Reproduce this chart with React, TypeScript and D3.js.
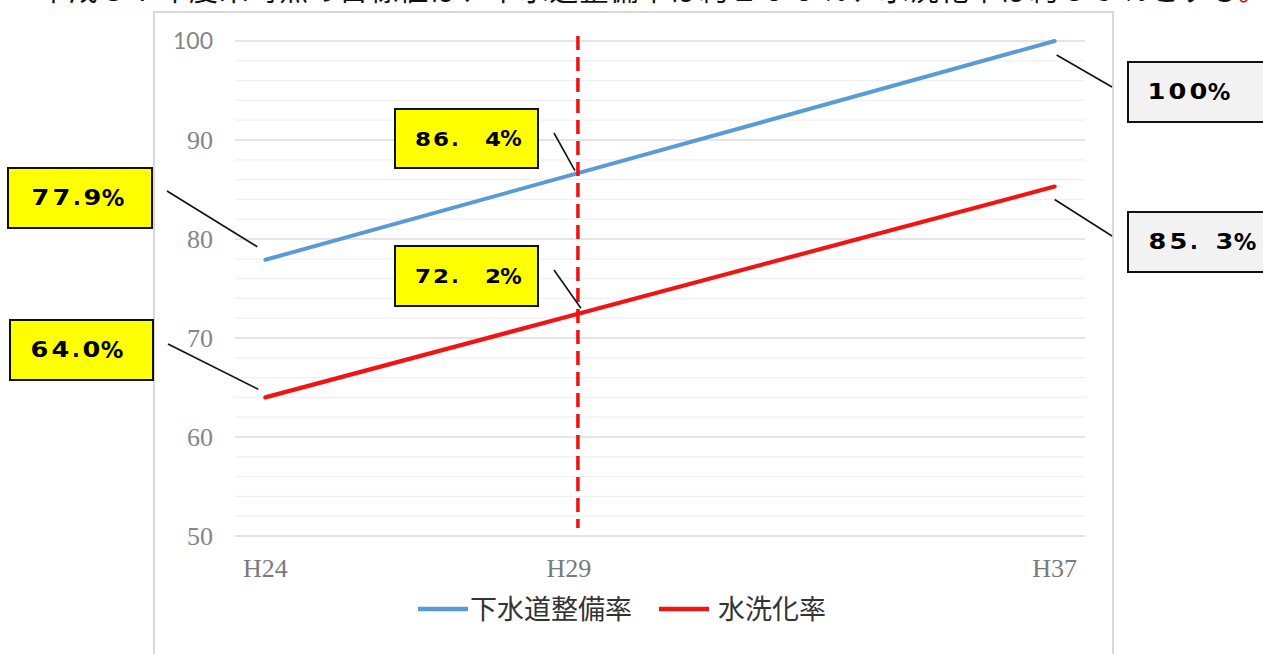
import React from "react";
import * as d3 from "d3";

const categories = ["H24","H25","H26","H27","H28","H29","H30","H31","H32","H33","H34","H35","H36","H37"];
const dataYears = ["H24", "H29", "H37"];
const sewerRate = [77.9, 86.4, 100];
const flushRate = [64.0, 72.2, 85.3];
const xTickLabels = ["H24", "H29", "H37"];
const yTicks = [50, 60, 70, 80, 90, 100];
const yMinor = d3.range(50, 101, 2);
const seriesNames = ["下水道整備率", "水洗化率"];
const labelSewer = ["77.9%", "86．4%", "100%"];
const labelFlush = ["64.0%", "72．2%", "85．3%"];
const headline = "平成３７年度末時点の目標値は、下水道整備率は約１００％、水洗化率は約８５％とする";
const headlineEnd = "。";

const W = 1263, H = 654;
const BLUE = "#5b9bd5";
const RED = "#f01414";

type LabelStyle = { pitch: number; dot: number; fdot: number; pct: number; fs: number; sx: number };
const SIDE: LabelStyle = { pitch: 21, dot: 10, fdot: 25, pct: 20, fs: 20.5, sx: 1.25 };
const MID: LabelStyle = { pitch: 18, dot: 10, fdot: 34, pct: 18, fs: 19.5, sx: 1.18 };

function BoxLabel({ text, x, y, s }: { text: string; x: number; y: number; s: LabelStyle }) {
  let acc = 0;
  const parts: React.ReactNode[] = [];
  Array.from(text).forEach((ch, i) => {
    const w = ch === "." ? s.dot : ch === "．" ? s.fdot : ch === "%" ? s.pct : s.pitch;
    const cx = x + acc + w / 2;
    const isDigit = /[0-9]/.test(ch);
    const isDot = ch === "." || ch === "．";
    const gx = isDot ? x + acc + 5 : cx;
    acc += w;
    const sc = isDigit ? `${s.sx},1` : ch === "%" ? "1.1,1.12" : "1,1";
    parts.push(
      <text key={i} transform={`translate(${gx},${y}) scale(${sc})`} textAnchor="middle" dy="0.36em"
        fontFamily="'DejaVu Sans', sans-serif" fontWeight={700} fontSize={s.fs} fill="#000">{isDot ? "." : ch}</text>
    );
  });
  return <g>{parts}</g>;
}

export default function App() {
  const x = d3.scalePoint<string>().domain(categories).range([235, 1085]).padding(0.5);
  const y = d3.scaleLinear().domain([50, 100]).range([536, 41]);
  const line = d3.line<number>()
    .x((_, i) => x(dataYears[i]) as number)
    .y((d) => y(d));

  const jp = "'Noto Sans CJK JP', sans-serif";
  const px = (i: number) => x(dataYears[i]) as number;
  const annots = [
    { t: labelSewer[0], s: SIDE, bx: 8, by: 168, bw: 144, bh: 60, fill: "#ffff00", tx: 30, l: [167, 191, px(0) - 8, y(sewerRate[0]) - 13] },
    { t: labelFlush[0], s: SIDE, bx: 10, by: 320, bw: 143, bh: 60, fill: "#ffff00", tx: 29, l: [168, 344, px(0) - 7, y(flushRate[0]) - 8] },
    { t: labelSewer[1], s: MID, bx: 395, by: 109, bw: 143, bh: 59, fill: "#ffff00", tx: 414, l: [554, 133, px(1) + 6, y(sewerRate[1]) - 5] },
    { t: labelFlush[1], s: MID, bx: 395, by: 246, bw: 143, bh: 60, fill: "#ffff00", tx: 414, l: [554, 270, px(1) + 12, y(flushRate[1]) - 8] },
    { t: labelSewer[2], s: SIDE, bx: 1128, by: 62, bw: 150, bh: 60, fill: "#f2f2f2", tx: 1146, l: [px(2) + 2, y(sewerRate[2]) + 14, 1112, 87] },
    { t: labelFlush[2], s: SIDE, bx: 1128, by: 212, bw: 150, bh: 60, fill: "#f2f2f2", tx: 1147, l: [px(2), y(flushRate[2]) + 13, 1112, 236] },
  ];

  const dashX = px(1) + 9;

  return (
    <div style={{ position: "fixed", left: 0, top: 0, width: W, height: H, background: "#fff" }}>
      <svg width={W} height={H} viewBox={`0 0 ${W} ${H}`} style={{ display: "block" }}>
        <rect width={W} height={H} fill="#fff" />
        {/* headline, cut off at the top edge as in the source */}
        <text x={39} y={1} fontFamily={jp} fontSize={29} fill="#111" textLength={1199} lengthAdjust="spacing">{headline}</text>
        <text x={1238} y={1} fontFamily={jp} fontSize={29} fill="#e00000">{headlineEnd}</text>

        {/* chart frame */}
        <rect x={154} y={12} width={959} height={H} fill="#fff" stroke="#d9d9d9" strokeWidth={2} />

        {/* gridlines */}
        {yMinor.filter((v) => v % 10 !== 0).map((v) => (
          <line key={"m" + v} x1={235} x2={1085} y1={y(v)} y2={y(v)} stroke="#f0f0f0" strokeWidth={1.2} />
        ))}
        {yTicks.map((v) => (
          <line key={"g" + v} x1={235} x2={1085} y1={y(v)} y2={y(v)} stroke="#dcdcdc" strokeWidth={1.6} />
        ))}

        {/* y tick labels */}
        {yTicks.map((v) => (
          <text key={"yl" + v} x={213} y={y(v)} dy="0.35em" textAnchor="end"
            fontFamily={v === 100 ? "Lato, sans-serif" : "'Liberation Serif', serif"}
            fontSize={v === 100 ? 23 : 26} fill="#858585">{v}</text>
        ))}

        {/* x tick labels */}
        {xTickLabels.map((c) => (
          <text key={"xl" + c} x={x(c) as number} y={577} textAnchor="middle"
            fontFamily="'Liberation Serif', serif" fontSize={26} fill="#7a7a7a">{c}</text>
        ))}

        {/* series lines */}
        <path d={line(sewerRate) || ""} fill="none" stroke={BLUE} strokeWidth={4} strokeLinecap="round" />
        <path d={line(flushRate) || ""} fill="none" stroke={RED} strokeWidth={4.2} strokeLinecap="round" />

        {/* dashed marker at H29 */}
        <line x1={dashX} x2={dashX} y1={36} y2={528} stroke="#ee1111" strokeWidth={3.5} strokeDasharray="14 7" />

        {/* annotations */}
        {annots.map((a, i) => (
          <g key={"a" + i}>
            <line x1={a.l[0]} y1={a.l[1]} x2={a.l[2]} y2={a.l[3]} stroke="#111" strokeWidth={1.6} />
            <rect x={a.bx} y={a.by} width={a.bw} height={a.bh} fill={a.fill} stroke="#111" strokeWidth={2} />
            <BoxLabel text={a.t} x={a.tx} y={a.by + a.bh / 2} s={a.s} />
          </g>
        ))}

        {/* legend */}
        <line x1={418} x2={468} y1={609} y2={609} stroke={BLUE} strokeWidth={4.5} />
        <text x={470} y={609} dy="0.36em" fontFamily={jp} fontSize={27} fill="#333">{seriesNames[0]}</text>
        <line x1={659} x2={709} y1={609} y2={609} stroke={RED} strokeWidth={4.5} />
        <text x={718} y={609} dy="0.36em" fontFamily={jp} fontSize={27} fill="#333">{seriesNames[1]}</text>
      </svg>
    </div>
  );
}
